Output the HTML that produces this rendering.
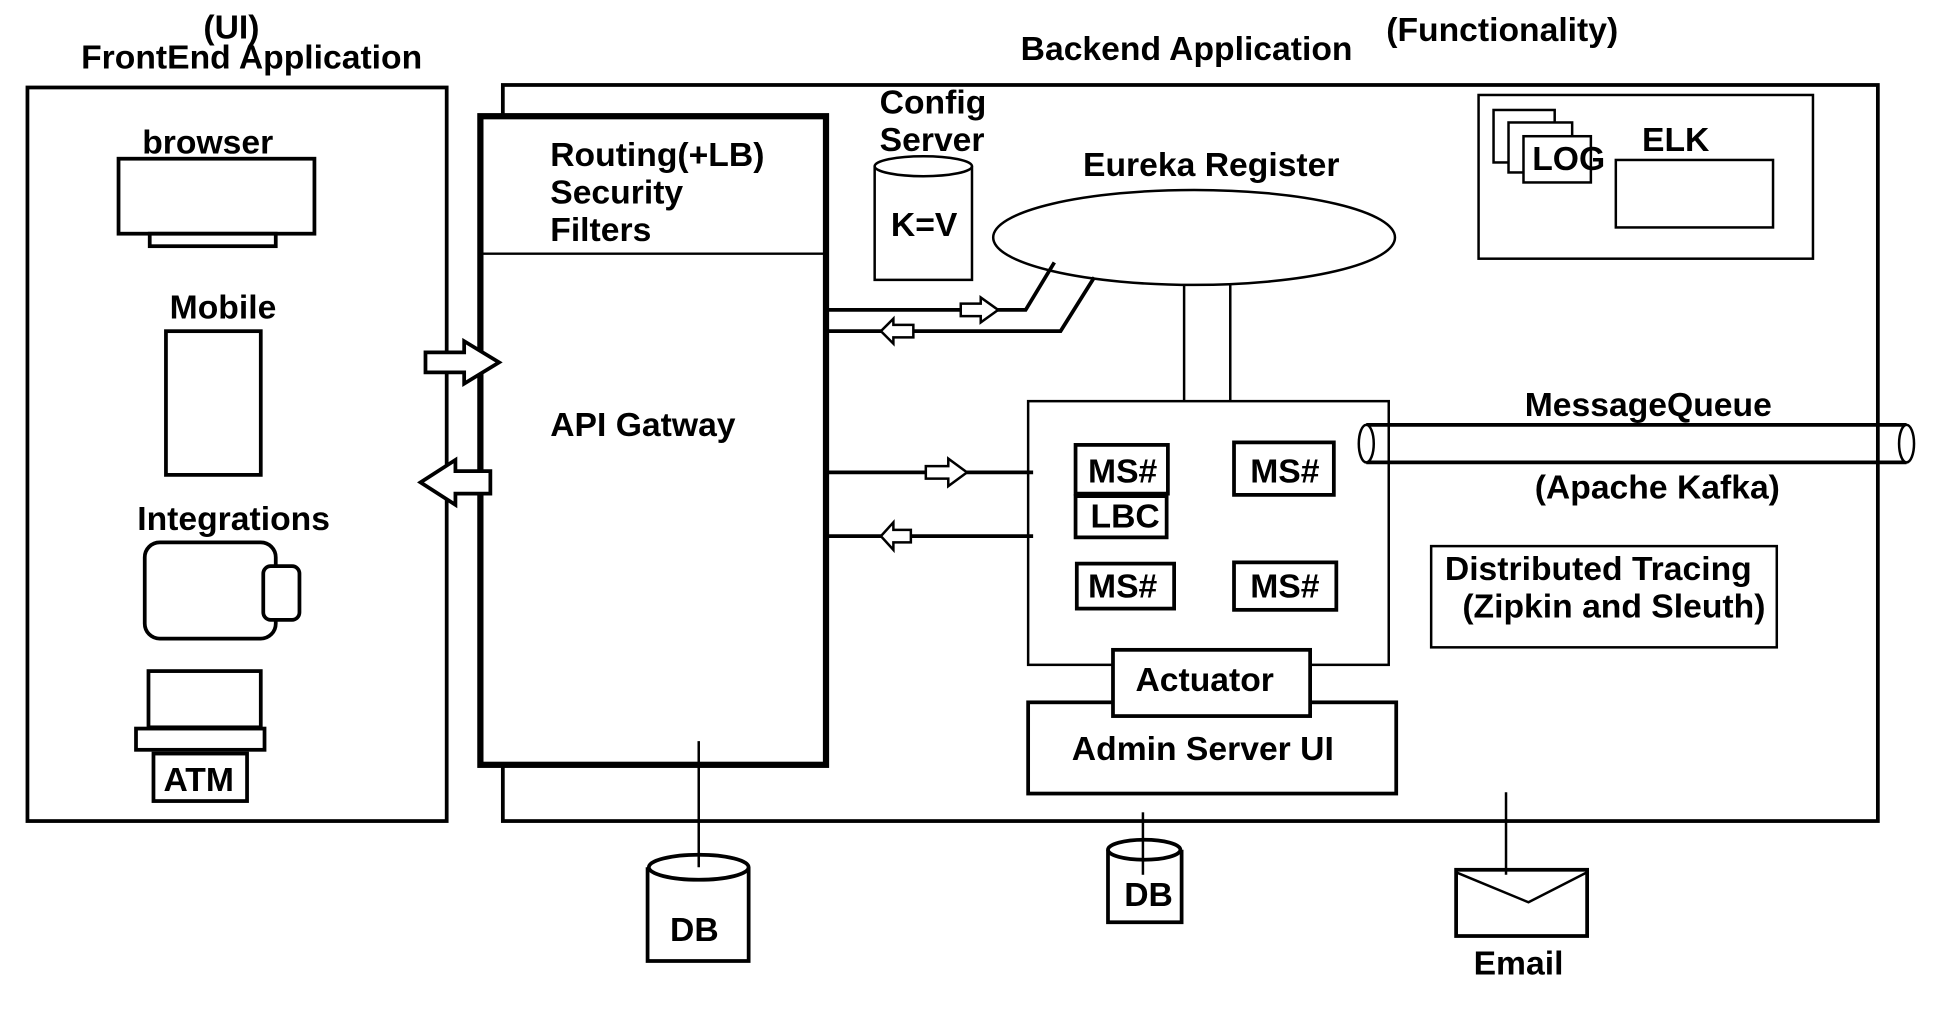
<!DOCTYPE html>
<html><head><meta charset="utf-8"><style>html,body{margin:0;padding:0;background:#fff}svg{display:block}text{font-family:"Liberation Sans",Arial,sans-serif;font-weight:bold;font-size:27px;fill:#000}</style></head>
<body>
<svg width="1934" height="1016" viewBox="0 0 1550 813" preserveAspectRatio="none" xmlns="http://www.w3.org/2000/svg">
<g fill="none" stroke="#000">
<rect x="22" y="70" width="336" height="587" stroke-width="3"/>
<rect x="403" y="68" width="1102" height="589" stroke-width="3"/>
<rect x="385" y="93" width="277" height="519" stroke-width="5" fill="#fff"/>
<line x1="385" y1="203" x2="662" y2="203" stroke-width="2"/>
<rect x="95" y="127" width="157" height="60" stroke-width="3"/>
<rect x="120" y="187" width="101" height="10" stroke-width="3"/>
<rect x="133" y="265" width="76" height="115" stroke-width="3"/>
<rect x="116" y="434" width="105" height="77" rx="12" stroke-width="3"/>
<rect x="211" y="453" width="29" height="43" rx="6" stroke-width="3" fill="#fff"/>
<rect x="119" y="537" width="90" height="45" stroke-width="3"/>
<rect x="109" y="583" width="103" height="17" stroke-width="3"/>
<rect x="123" y="603" width="75" height="38" stroke-width="3"/>
<path d="M341 282 L372 282 L372 273 L400 290 L372 307 L372 298 L341 298 Z" stroke-width="3" fill="#fff"/>
<path d="M393 377 L365 377 L365 368 L337 386 L365 404 L365 395 L393 395 Z" stroke-width="3" fill="#fff"/>
<path d="M701 133 L701 224 L779 224 L779 133" stroke-width="2"/>
<ellipse cx="740" cy="133" rx="39" ry="8" stroke-width="2"/>
<ellipse cx="957" cy="190" rx="161" ry="38" stroke-width="2"/>
<line x1="949" y1="228" x2="949" y2="321" stroke-width="2"/>
<line x1="986" y1="228" x2="986" y2="321" stroke-width="2"/>
<polyline points="662,248 822,248 845,210" stroke-width="3"/>
<polyline points="662,265 850,265 877,222" stroke-width="3"/>
<path d="M770 243 L786 243 L786 238 L800 248 L786 258 L786 253 L770 253 Z" stroke-width="2" fill="#fff"/>
<path d="M732 260 L716 260 L716 255 L706 265 L716 275 L716 270 L732 270 Z" stroke-width="2" fill="#fff"/>
<rect x="824" y="321" width="289" height="211" stroke-width="2"/>
<line x1="662" y1="378" x2="828" y2="378" stroke-width="3"/>
<line x1="662" y1="429" x2="828" y2="429" stroke-width="3"/>
<path d="M742 373 L760 373 L760 367 L775 378 L760 389 L760 383 L742 383 Z" stroke-width="2" fill="#fff"/>
<path d="M730 424 L716 424 L716 418 L706 429 L716 440 L716 434 L730 434 Z" stroke-width="2" fill="#fff"/>
<rect x="862" y="356" width="74" height="39" stroke-width="3"/>
<rect x="862" y="397" width="73" height="33" stroke-width="3"/>
<rect x="989" y="354" width="80" height="42" stroke-width="3"/>
<rect x="863" y="451" width="78" height="36" stroke-width="3"/>
<rect x="989" y="450" width="82" height="38" stroke-width="3"/>
<rect x="824" y="562" width="295" height="73" stroke-width="3"/>
<rect x="892" y="520" width="158" height="53" stroke-width="3" fill="#fff"/>
<line x1="1095" y1="340" x2="1528" y2="340" stroke-width="3"/>
<line x1="1095" y1="370" x2="1528" y2="370" stroke-width="3"/>
<ellipse cx="1095" cy="355" rx="6" ry="15" stroke-width="2" fill="#fff"/>
<ellipse cx="1528" cy="355" rx="6" ry="15" stroke-width="2" fill="#fff"/>
<rect x="1147" y="437" width="277" height="81" stroke-width="2"/>
<rect x="1185" y="76" width="268" height="131" stroke-width="2"/>
<rect x="1197" y="88" width="49" height="42" stroke-width="2" fill="#fff"/>
<rect x="1209" y="98" width="51" height="40" stroke-width="2" fill="#fff"/>
<rect x="1221" y="109" width="54" height="37" stroke-width="2" fill="#fff"/>
<rect x="1295" y="128" width="126" height="54" stroke-width="2"/>
<path d="M519 694 L519 769 L600 769 L600 694" stroke-width="3"/>
<ellipse cx="560" cy="694" rx="40" ry="10" stroke-width="3"/>
<line x1="560" y1="593" x2="560" y2="694" stroke-width="2"/>
<path d="M888 680 L888 738 L947 738 L947 680" stroke-width="3"/>
<ellipse cx="917" cy="680" rx="29" ry="8" stroke-width="3"/>
<line x1="916" y1="650" x2="916" y2="700" stroke-width="2"/>
<rect x="1167" y="696" width="105" height="53" stroke-width="3"/>
<polyline points="1167,698 1225,722 1272,698" stroke-width="2"/>
<line x1="1207" y1="634" x2="1207" y2="700" stroke-width="2"/>
</g>
<text x="163" y="31">(UI)</text>
<text x="65" y="55">FrontEnd Application</text>
<text x="818" y="48">Backend Application</text>
<text x="1111" y="33">(Functionality)</text>
<text x="114" y="123">browser</text>
<text x="136" y="255">Mobile</text>
<text x="110" y="424">Integrations</text>
<text x="131" y="633">ATM</text>
<text x="441" y="133">Routing(+LB)</text>
<text x="441" y="163">Security</text>
<text x="441" y="193">Filters</text>
<text x="441" y="349">API Gatway</text>
<text x="705" y="91">Config</text>
<text x="705" y="121">Server</text>
<text x="714" y="189">K=V</text>
<text x="868" y="141">Eureka Register</text>
<text x="1316" y="121">ELK</text>
<text x="1228" y="136">LOG</text>
<text x="1222" y="333">MessageQueue</text>
<text x="1230" y="399">(Apache Kafka)</text>
<text x="1158" y="464">Distributed Tracing</text>
<text x="1172" y="494">(Zipkin and Sleuth)</text>
<text x="872" y="386">MS#</text>
<text x="874" y="422">LBC</text>
<text x="1002" y="386">MS#</text>
<text x="872" y="478">MS#</text>
<text x="1002" y="478">MS#</text>
<text x="910" y="553">Actuator</text>
<text x="859" y="608">Admin Server UI</text>
<text x="537" y="753">DB</text>
<text x="901" y="725">DB</text>
<text x="1181" y="780">Email</text>
</svg>
</body></html>
